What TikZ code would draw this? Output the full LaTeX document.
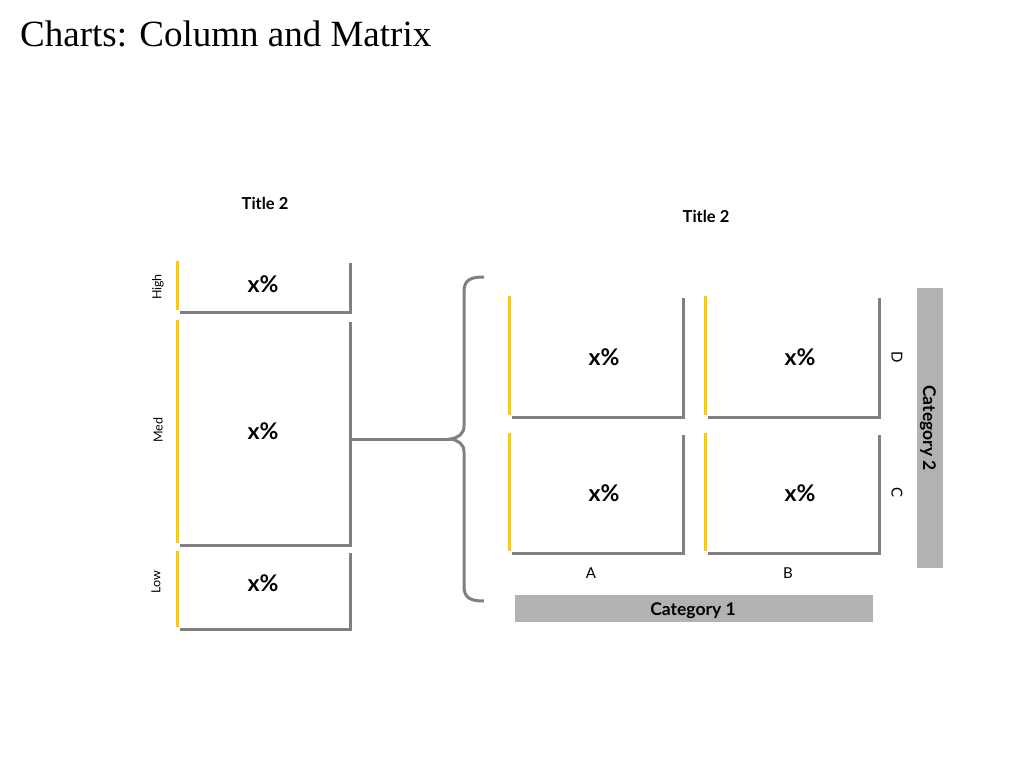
\documentclass[tikz,border=0pt]{standalone}
\usepackage{fontspec}
\setmainfont{Lato}
\newfontfamily\titlefont{Liberation Serif}
\definecolor{ybar}{HTML}{FFCC00}
\definecolor{gline}{HTML}{808080}
\definecolor{gbar}{HTML}{B2B2B2}
\begin{document}
\begin{tikzpicture}[x=1pt,y=-1pt,
  box/.style={rectangle,inner sep=0pt,draw=none},
  pct/.style={font=\bfseries\fontsize{23}{23}\selectfont,inner sep=0pt},
  ttl/.style={font=\bfseries\fontsize{16.5}{16.5}\selectfont,inner sep=0pt},
  lvl/.style={font=\fontsize{12.5}{12.5}\selectfont,inner sep=0pt,rotate=90},
  axl/.style={font=\fontsize{15}{15}\selectfont,inner sep=0pt},
  catfont/.style={font=\bfseries\fontsize{17.5}{17.5}\selectfont,inner sep=0pt},
  catbar/.style={fill=gbar,draw=none,inner sep=0pt},
  yl/.style={draw=ybar,line width=3pt},
  gl/.style={draw=gline,line width=3pt},
]
\useasboundingbox[fill=white] (0,0) rectangle (1024,768);
\node[anchor=base west,inner sep=0pt,font=\titlefont\fontsize{37}{37}\selectfont] (title) at (20,47) {Charts: Column and Matrix};

% left column
\node[ttl] (t1) at (265,203) {Title 2};
\node[box,minimum width=172pt,minimum height=51pt] (high) at (264,286.5) {};
\node[box,minimum width=172pt,minimum height=225pt] (med) at (264,432.5) {};
\node[box,minimum width=172pt,minimum height=78pt] (low) at (264,590) {};
\foreach \b in {high,med,low}{
  \draw[yl] (\b.north west) -- ([yshift=2pt]\b.south west);
  \draw[gl] ([xshift=2pt]\b.south west) -- (\b.south east) -- ([yshift=-2pt]\b.north east);
}
\node[pct] (phigh) at (263,284) {x\%};
\node[pct] (pmed) at (263,431) {x\%};
\node[pct] (plow) at (263,583) {x\%};
\node[lvl] (lhigh) at (158,287) {High};
\node[lvl] (lmed) at (158,430) {Med};
\node[lvl] (llow) at (156,582) {Low};

% brace
\coordinate (btip) at (450,439);
\draw[gl] (484,277) .. controls (470,277) and (464,280) .. (464,292) -- (464,426)
  .. controls (464,434) and (458,438) .. (btip)
  .. controls (458,440) and (464,444) .. (464,452) -- (464,586)
  .. controls (464,598) and (470,601) .. (484,601);
\draw[gl] (med.east |- btip) -- (btip);

% matrix
\node[ttl] (t2) at (706,216) {Title 2};
\node[box,minimum width=173pt,minimum height=121pt] (m11) at (596.5,356.5) {};
\node[box,minimum width=173pt,minimum height=121pt] (m12) at (792.5,356.5) {};
\node[box,minimum width=173pt,minimum height=120pt] (m21) at (596.5,493) {};
\node[box,minimum width=173pt,minimum height=120pt] (m22) at (792.5,493) {};
\foreach \b in {m11,m12,m21,m22}{
  \draw[yl] (\b.north west) -- ([yshift=2pt]\b.south west);
  \draw[gl] ([xshift=2pt]\b.south west) -- (\b.south east) -- ([yshift=-2pt]\b.north east);
}
\node[pct] (p11) at (604,357) {x\%};
\node[pct] (p12) at (800,357) {x\%};
\node[pct] (p21) at (604,493) {x\%};
\node[pct] (p22) at (800,493) {x\%};
\node[axl] (la) at (591,573) {A};
\node[axl] (lb) at (788,573) {B};
\node[axl,rotate=-90] (ld) at (897,357) {D};
\node[axl,rotate=-90] (lc) at (897,493) {C};
\node[catbar,minimum width=358pt,minimum height=27pt] (cat1) at (694,608.5) {};
\node[catfont] (cat1t) at (693,611) {Category 1};
\node[catbar,minimum width=26pt,minimum height=280pt] (cat2) at (930,428) {};
\node[catfont,rotate=-90] (cat2t) at (928,428) {Category 2};
\end{tikzpicture}
\end{document}
